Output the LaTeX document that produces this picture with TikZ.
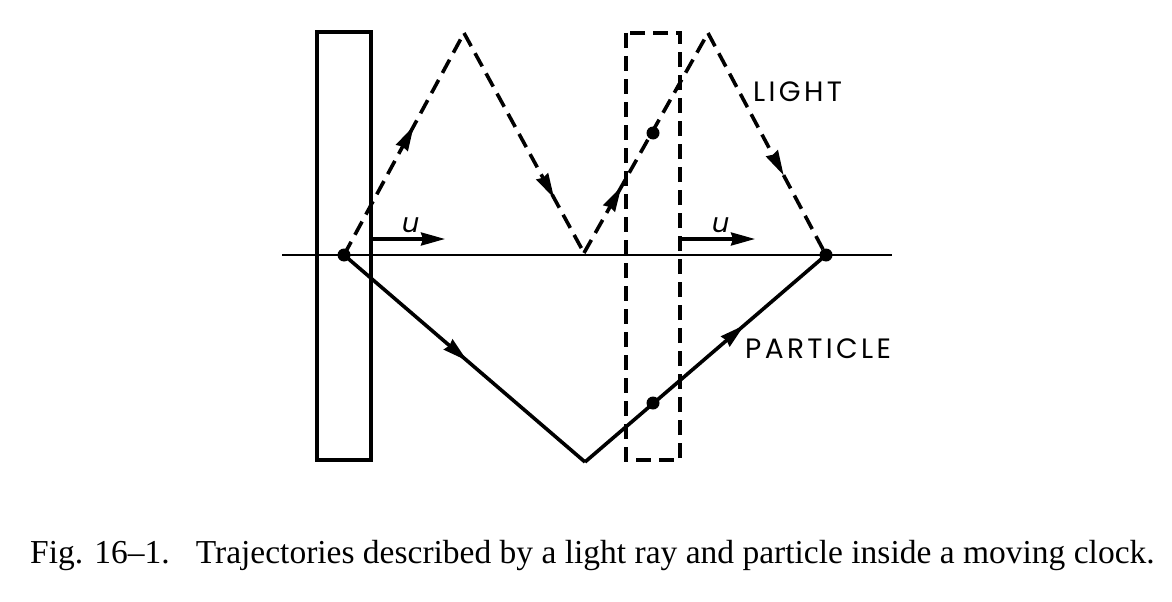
\documentclass[tikz,border=0pt]{standalone}
\usepackage{fontspec}
\setmainfont{Liberation Serif}
\newfontfamily\labfont[LetterSpace=12]{Poppins}
\newfontfamily\ufont[FakeSlant=0.2]{Poppins}
\usetikzlibrary{arrows.meta,decorations.markings}
\tikzset{
  ln/.style={line width=3.1pt},
  path/.style={line width=3.6pt},
  axis/.style={line width=2.6pt},
  dsh/.style={line width=3.1pt, dash pattern=on 15pt off 8pt},
  dpath/.style={line width=3.6pt, dash pattern=on 15pt off 8pt},
  tip/.style={-{Stealth[length=24pt,width=13pt,inset=2pt]}},
  dot/.style={circle, fill=black, inner sep=0pt, minimum size=13pt},
  lab/.style={font=\labfont\fontsize{28}{30}\selectfont, inner sep=0pt, anchor=west},
  ulab/.style={font=\ufont\fontsize{27}{30}\selectfont, inner sep=0pt},
  mk/.style={postaction={decorate, decoration={markings,
     mark=at position #1 with {\arrow[line width=0pt]{Stealth[length=25pt,width=14pt,inset=2pt]}}}}}
}
\begin{document}
\begin{tikzpicture}[x=1pt,y=-1pt]
\useasboundingbox (0,0) rectangle (1172,602);
% points
\coordinate (A) at (344,255);
\coordinate (P1) at (464,33);
\coordinate (V) at (584,253);
\coordinate (P2) at (708,33);
\coordinate (B) at (826,255);
\coordinate (Q) at (585,462);
\coordinate (L0) at (282,255);
\coordinate (L1) at (892,255);
% horizontal line
\draw[axis] (L0) -- (L1);
% clocks
\draw[ln] (317,32) rectangle (371,460);
\draw[dsh] (626,33) rectangle (680,460);
% light path
\draw[dpath, mk=0.58] (A) -- (P1);
\draw[dpath, mk=0.75] (P1) -- (V);
\draw[dpath, mk=0.30] (V) -- (P2);
\draw[dpath, mk=0.64] (P2) -- (B);
% particle path
\draw[path, mk=0.51] (A) -- (Q);
\draw[path, mk=0.66] (Q) -- (B);
% dots
\node[dot] (dA) at (A) {};
\node[dot] (dB) at (B) {};
\node[dot] (dL) at (653,133) {};
\node[dot] (dP) at (653,403) {};
% velocity arrows
\coordinate (u1s) at (371,239);
\coordinate (u1e) at (445,239);
\coordinate (u2s) at (680,239);
\coordinate (u2e) at (755,239);
\draw[ln, tip] (u1s) -- (u1e);
\draw[ln, tip] (u2s) -- (u2e);
\node[ulab] (u1) at (409,225) {u};
\node[ulab] (u2) at (719,225) {u};
% labels
\node[lab] (light) at (753,92) {LIGHT};
\node[lab] (particle) at (745,349) {PARTICLE};
% caption
\node[font=\fontsize{33.5}{36}\selectfont, inner sep=0pt, anchor=base west] (cap) at (30,563)
  {Fig. 16--1.\hspace{26pt}Trajectories described by a light ray and particle inside a moving clock.};
\end{tikzpicture}
\end{document}
